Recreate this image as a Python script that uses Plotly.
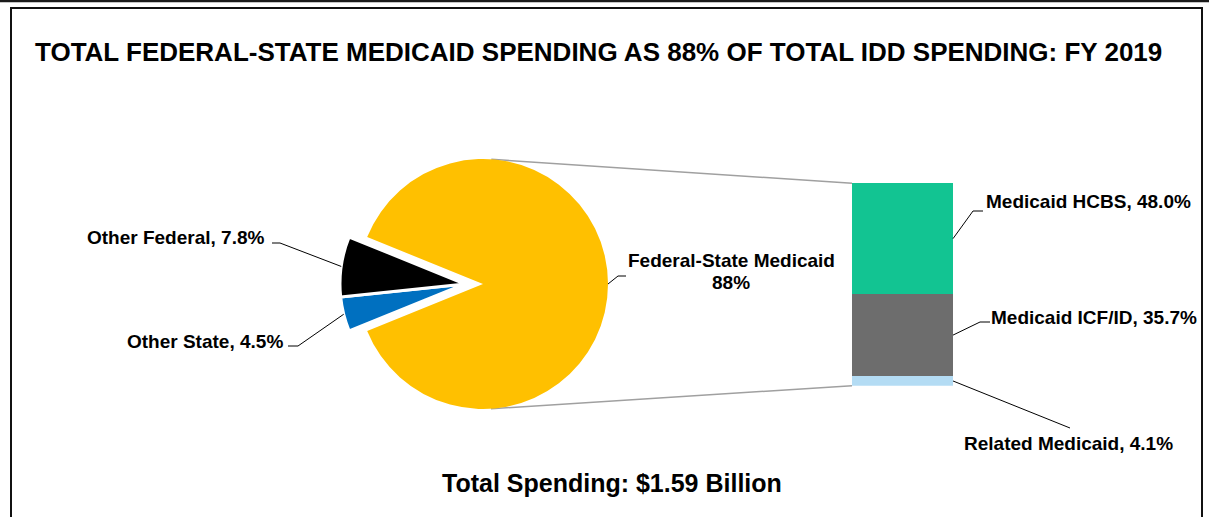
import math
import plotly.graph_objects as go

# ---- data ----
pie_labels = ["Federal-State Medicaid", "Other State", "Other Federal"]
pie_values = [88.0, 4.5, 7.8]
pie_colors = ["#FFC000", "#0070C0", "#000000"]

bar_labels = ["Related Medicaid", "Medicaid ICF/ID", "Medicaid HCBS"]
bar_values = [4.1, 35.7, 48.0]
bar_colors = ["#B4DCF4", "#6D6D6D", "#12C492"]

title_text = "TOTAL FEDERAL-STATE MEDICAID SPENDING AS 88% OF TOTAL IDD SPENDING: FY 2019"
total_text = "Total Spending: $1.59 Billion"

# ---- canvas geometry (pixels) ----
W, H = 1209, 517
PIE_CX, PIE_CY, PIE_R = 483, 284, 125
SPLIT_SHIFT = 18          # small slices are pulled out to the left as a group
BAR_LEFT, BAR_RIGHT = 852, 953
BAR_BASE = 385.7
BAR_SCALE = 2.305         # pixels per percentage point

FONT = "Liberation Sans, Arial, sans-serif"


def fx(px):
    return px / W


def fy(py):
    return 1 - py / H


# pie angles (compass degrees, clockwise from 12 o'clock); the big slice faces the bar
pie_total = sum(pie_values)
rotation = 90 - pie_values[0] / pie_total * 360 / 2


def slice_mid(i):
    before = sum(pie_values[:i])
    return rotation + (before + pie_values[i] / 2) / pie_total * 360


def arc_point(cx, cy, r, compass_deg):
    a = math.radians(compass_deg)
    return (cx + r * math.sin(a), cy - r * math.cos(a))


fig = go.Figure()

transparent = "rgba(0,0,0,0)"

# main pie: only the Medicaid slice is visible
fig.add_trace(go.Pie(
    labels=pie_labels, values=pie_values, sort=False,
    direction="clockwise", rotation=rotation,
    marker=dict(colors=[pie_colors[0], transparent, transparent], line=dict(width=0)),
    textinfo="none", hoverinfo="skip", showlegend=False,
    domain=dict(x=[fx(PIE_CX - PIE_R), fx(PIE_CX + PIE_R)],
                y=[fy(PIE_CY + PIE_R), fy(PIE_CY - PIE_R)]),
))

# exploded pie: the two non-Medicaid slices, shifted left
split_cx = PIE_CX - SPLIT_SHIFT
fig.add_trace(go.Pie(
    labels=pie_labels, values=pie_values, sort=False,
    direction="clockwise", rotation=rotation,
    marker=dict(colors=[transparent, pie_colors[1], pie_colors[2]],
                line=dict(color=[transparent, "white", "white"], width=[0, 3, 3])),
    textinfo="none", hoverinfo="skip", showlegend=False,
    domain=dict(x=[fx(split_cx - PIE_R), fx(split_cx + PIE_R)],
                y=[fy(PIE_CY + PIE_R), fy(PIE_CY - PIE_R)]),
))

# stacked bar breaking down the Medicaid share
for lab, val, col in zip(bar_labels, bar_values, bar_colors):
    fig.add_trace(go.Bar(
        x=[0], y=[val], width=1, name=lab,
        marker=dict(color=col, line=dict(width=0)),
        hoverinfo="skip", showlegend=False,
    ))

shapes = []


def polyline(points, color="black", width=1, layer="above"):
    for (x0, y0), (x1, y1) in zip(points[:-1], points[1:]):
        shapes.append(dict(type="line", xref="paper", yref="paper",
                           x0=fx(x0), y0=fy(y0), x1=fx(x1), y1=fy(y1),
                           line=dict(color=color, width=width), layer=layer))


# connectors from the pie to the top and bottom of the bar
bar_total = sum(bar_values)
bar_top = BAR_BASE - bar_total * BAR_SCALE


def tangent_point(px, py, upper):
    dx, dy = px - PIE_CX, PIE_CY - py
    d = math.hypot(dx, dy)
    phi = math.atan2(dy, dx)
    a = math.acos(PIE_R / d)
    ang = phi + a if upper else phi - a
    return (PIE_CX + PIE_R * math.cos(ang), PIE_CY - PIE_R * math.sin(ang))


polyline([tangent_point(BAR_LEFT, bar_top, True), (BAR_LEFT, bar_top)],
         color="#A0A0A0", width=1.5, layer="below")
polyline([tangent_point(BAR_LEFT, BAR_BASE, False), (BAR_LEFT, BAR_BASE)],
         color="#A0A0A0", width=1.5, layer="below")

# leader lines for the pie slices
med_pt = arc_point(PIE_CX, PIE_CY, PIE_R, slice_mid(0))
state_pt = arc_point(split_cx, PIE_CY, PIE_R, slice_mid(1))
fed_pt = arc_point(split_cx, PIE_CY, PIE_R, slice_mid(2))
polyline([med_pt, (618, 276), (626, 276)])
polyline([fed_pt, (280, 243), (272, 243)])
polyline([state_pt, (298, 346), (288, 346)])

# leader lines for the bar segments
cum = 0
bar_mid = []
for v in bar_values:
    bar_mid.append(BAR_BASE - (cum + v / 2) * BAR_SCALE)
    cum += v
polyline([(BAR_RIGHT, bar_mid[2]), (973, 211), (983, 211)])
polyline([(BAR_RIGHT, bar_mid[1]), (980, 322), (990, 322)])
polyline([(BAR_RIGHT, bar_mid[0]), (1070, 428)])

# frame
shapes.append(dict(type="line", xref="paper", yref="paper",
                   x0=0, x1=1, y0=fy(1), y1=fy(1),
                   line=dict(color="#1A1A1A", width=2.5)))
shapes.append(dict(type="rect", xref="paper", yref="paper",
                   x0=fx(11), x1=fx(1202), y0=fy(560), y1=fy(8),
                   line=dict(color="#111111", width=2)))


def label(text, x, y, size=19, xanchor="left"):
    return dict(text=text, xref="paper", yref="paper", x=fx(x), y=fy(y),
                xanchor=xanchor, yanchor="middle", showarrow=False,
                font=dict(family=FONT, size=size, color="#000000", weight="bold"))


annotations = [
    label(title_text, 598.5, 52, size=26, xanchor="center"),
    label(pie_labels[0], 731, 260, xanchor="center"),
    label(f"{pie_values[0]:.0f}%", 731, 282, xanchor="center"),
    label(f"{pie_labels[2]}, {pie_values[2]:.1f}%", 267, 237, xanchor="right"),
    label(f"{pie_labels[1]}, {pie_values[1]:.1f}%", 285, 341, xanchor="right"),
    label(f"{bar_labels[2]}, {bar_values[2]:.1f}%", 984, 201),
    label(f"{bar_labels[1]}, {bar_values[1]:.1f}%", 989, 317),
    label(f"{bar_labels[0]}, {bar_values[0]:.1f}%", 1068, 443, xanchor="center"),
    label(total_text, 611.5, 483, size=25, xanchor="center"),
]

fig.update_layout(
    width=W, height=H,
    margin=dict(l=0, r=0, t=0, b=0),
    paper_bgcolor="white", plot_bgcolor="white",
    barmode="stack", bargap=0,
    showlegend=False,
    xaxis=dict(domain=[fx(BAR_LEFT), fx(BAR_RIGHT)], range=[-0.5, 0.5],
               visible=False, fixedrange=True),
    yaxis=dict(domain=[fy(BAR_BASE), fy(BAR_BASE - 100 * BAR_SCALE)], range=[0, 100],
               visible=False, fixedrange=True),
    shapes=shapes,
    annotations=annotations,
)

fig.write_html("out.html", config={"displayModeBar": False})
